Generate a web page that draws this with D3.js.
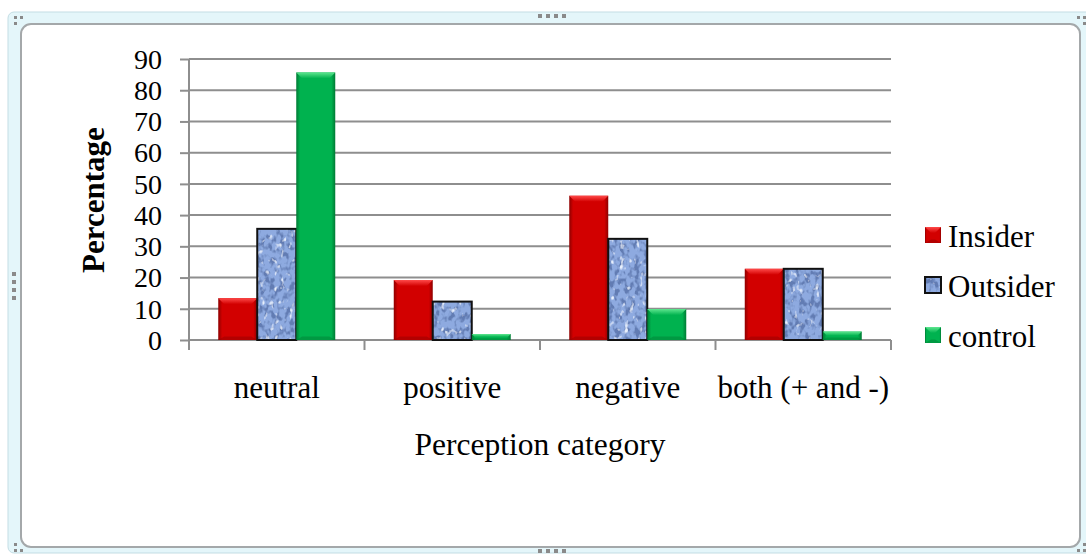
<!DOCTYPE html>
<html>
<head>
<meta charset="utf-8">
<script src="https://cdn.jsdelivr.net/npm/d3@7"></script>
<style>
  html, body { margin: 0; padding: 0; background: #ffffff; }
  svg { display: block; }
</style>
</head>
<body>
<div id="chart"></div>
<script>
// Perception categories and percentages per group
const categories = ["neutral", "positive", "negative", "both (+ and -)"];
const seriesNames = ["Insider", "Outsider", "control"];
const insider  = [13.4, 19.2, 46.2, 22.8];
const outsider = [35.6, 12.3, 32.4, 22.8];
const control  = [85.7, 1.9, 9.9, 2.7];
const yTicks = [0, 10, 20, 30, 40, 50, 60, 70, 80, 90];

const SERIF = "'Liberation Serif', 'Times New Roman', serif";
const W = 1086, H = 555;
const svg = d3.select("#chart").append("svg").attr("width", W).attr("height", H)
  .style("font-family", SERIF);
const defs = svg.append("defs");

// ---- window frame ----
svg.append("rect").attr("x", 8).attr("y", 12).attr("width", W).attr("height", 541)
  .attr("rx", 6).attr("fill", "#e4f6fa").attr("stroke", "#c3dde4").attr("stroke-width", 1);
svg.append("rect").attr("x", 21).attr("y", 24).attr("width", 1059).attr("height", 523)
  .attr("rx", 10).attr("fill", "#ffffff").attr("stroke", "#a4a8aa").attr("stroke-width", 2);

// sizing handles
const handleColor = "#8a8a8a";
[0, 1, 2, 3].forEach(i => {
  svg.append("rect").attr("x", 538 + i * 8).attr("y", 14).attr("width", 4).attr("height", 4).attr("fill", handleColor);
  svg.append("rect").attr("x", 538 + i * 8).attr("y", 549).attr("width", 4).attr("height", 4).attr("fill", handleColor);
  svg.append("rect").attr("x", 12).attr("y", 272 + i * 8).attr("width", 4).attr("height", 4).attr("fill", handleColor);
});
[[14, 16], [20, 16], [14, 22]].forEach(p =>
  svg.append("rect").attr("x", p[0]).attr("y", p[1]).attr("width", 3).attr("height", 3).attr("fill", handleColor));
[[14, 543], [14, 549], [20, 549]].forEach(p =>
  svg.append("rect").attr("x", p[0]).attr("y", p[1]).attr("width", 3).attr("height", 3).attr("fill", handleColor));
[[1077, 16], [1083, 16], [1083, 22]].forEach(p =>
  svg.append("rect").attr("x", p[0]).attr("y", p[1]).attr("width", 3).attr("height", 3).attr("fill", handleColor));
[[1077, 549], [1083, 549], [1083, 543]].forEach(p =>
  svg.append("rect").attr("x", p[0]).attr("y", p[1]).attr("width", 3).attr("height", 3).attr("fill", handleColor));

// ---- scales ----
const plot = { left: 189, right: 891, top: 59, bottom: 340 };
const x0 = d3.scaleBand().domain(categories).range([plot.left, plot.right]).paddingInner(0).paddingOuter(0);
const groupPad = x0.bandwidth() * (1.5 / 4.5) / 2;
const x1 = d3.scaleBand().domain(seriesNames)
  .range([groupPad, x0.bandwidth() - groupPad]).padding(0);
const y = d3.scaleLinear().domain([0, 90]).range([plot.bottom, plot.top]);

// ---- gradients / textures ----
const palette = {
  Insider: { base: "#d20000", light: "#ff4a4a", dark: "#8e0000" },
  control: { base: "#00b24f", light: "#5ee68f", dark: "#007a34" }
};
Object.entries(palette).forEach(([k, c]) => {
  const g = defs.append("linearGradient").attr("id", "side-" + k).attr("x1", 0).attr("x2", 1).attr("y1", 0).attr("y2", 0);
  g.append("stop").attr("offset", "0%").attr("stop-color", c.dark);
  g.append("stop").attr("offset", "10%").attr("stop-color", c.base);
  g.append("stop").attr("offset", "90%").attr("stop-color", c.base);
  g.append("stop").attr("offset", "100%").attr("stop-color", c.dark);
  const t = defs.append("linearGradient").attr("id", "cap-" + k).attr("x1", 0).attr("x2", 0).attr("y1", 0).attr("y2", 1);
  t.append("stop").attr("offset", "0%").attr("stop-color", c.light);
  t.append("stop").attr("offset", "100%").attr("stop-color", c.base);
});

// mottled blue texture for the Outsider series: dark and pale blotches over light blue
const tex = defs.append("filter").attr("id", "mottle").attr("x", 0).attr("y", 0).attr("width", 1).attr("height", 1);
tex.append("feTurbulence").attr("type", "fractalNoise").attr("baseFrequency", "0.2 0.14")
  .attr("numOctaves", 2).attr("seed", 7).attr("result", "noise");
tex.append("feColorMatrix").attr("in", "noise").attr("type", "matrix")
  .attr("values", "0 0 0 0 0.12  0 0 0 0 0.20  0 0 0 0 0.45  5 0 0 0 -2.3")
  .attr("result", "darkSpots");
tex.append("feColorMatrix").attr("in", "noise").attr("type", "matrix")
  .attr("values", "0 0 0 0 0.80  0 0 0 0 0.87  0 0 0 0 0.98  0 -5 0 0 1.9")
  .attr("result", "paleSpots");
tex.append("feMerge").attr("result", "spots").call(m => {
  m.append("feMergeNode").attr("in", "SourceGraphic");
  m.append("feMergeNode").attr("in", "darkSpots");
  m.append("feMergeNode").attr("in", "paleSpots");
});
tex.append("feComposite").attr("in", "spots").attr("in2", "SourceGraphic").attr("operator", "in");

// ---- gridlines & axes ----
const grid = svg.append("g");
grid.selectAll("line").data(yTicks.filter(d => d > 0)).join("line")
  .attr("x1", plot.left).attr("x2", plot.right)
  .attr("y1", d => y(d)).attr("y2", d => y(d))
  .attr("stroke", "#8e8e8e").attr("stroke-width", 2);

const yAxis = svg.append("g").attr("transform", `translate(${plot.left},0)`)
  .call(d3.axisLeft(y).tickValues(yTicks).tickSize(9).tickPadding(18).tickFormat(d3.format("d")));
yAxis.attr("font-family", SERIF);
yAxis.select(".domain").attr("stroke", "#8e8e8e").attr("stroke-width", 2)
  .attr("d", `M0,${plot.top}V${plot.bottom + 10}`);
yAxis.selectAll(".tick line").attr("stroke", "#8e8e8e").attr("stroke-width", 2);
yAxis.selectAll(".tick text").attr("font-size", 28).attr("fill", "#000").attr("dy", "0.33em");

const xAxis = svg.append("g").attr("transform", `translate(0,${plot.bottom})`);
xAxis.append("line").attr("x1", plot.left).attr("x2", plot.right).attr("y1", 0).attr("y2", 0)
  .attr("stroke", "#8e8e8e").attr("stroke-width", 2);
const bounds = categories.map(c => x0(c)).concat([plot.right]);
xAxis.selectAll("line.sep").data(bounds).join("line").attr("class", "sep")
  .attr("x1", d => d).attr("x2", d => d).attr("y1", 0).attr("y2", 10)
  .attr("stroke", "#8e8e8e").attr("stroke-width", 2);
xAxis.selectAll("text").data(categories).join("text")
  .attr("x", d => x0(d) + x0.bandwidth() / 2).attr("y", 58)
  .attr("text-anchor", "middle").attr("font-size", 31).attr("font-family", SERIF)
  .attr("fill", "#000").text(d => d);

// axis titles
svg.append("text").attr("x", (plot.left + plot.right) / 2).attr("y", 455)
  .attr("text-anchor", "middle").attr("font-size", 31.5).attr("font-family", SERIF)
  .attr("fill", "#000").text("Perception category");
svg.append("text").attr("transform", "translate(104,200) rotate(-90)")
  .attr("text-anchor", "middle").attr("font-size", 31).attr("font-weight", "bold")
  .attr("font-family", SERIF).attr("fill", "#000").text("Percentage");

// ---- bars ----
const seriesValues = { Insider: insider, Outsider: outsider, control: control };

function bevelBar(g, name, bx, by, bw, bh) {
  if (name === "Outsider") {
    g.append("rect").attr("x", bx).attr("y", by).attr("width", bw).attr("height", bh)
      .attr("fill", "#8eaae0").attr("filter", "url(#mottle)");
    g.append("rect").attr("x", bx).attr("y", by).attr("width", bw).attr("height", bh)
      .attr("fill", "none").attr("stroke", "#111").attr("stroke-width", 2);
    return;
  }
  const c = palette[name];
  const b = Math.min(6, bh / 2, bw / 2);
  g.append("rect").attr("x", bx).attr("y", by).attr("width", bw).attr("height", bh)
    .attr("fill", `url(#side-${name})`);
  g.append("polygon")
    .attr("points", [[bx, by], [bx + bw, by], [bx + bw - b, by + b], [bx + b, by + b]].map(p => p.join(",")).join(" "))
    .attr("fill", `url(#cap-${name})`);
  g.append("polygon")
    .attr("points", [[bx, by + bh], [bx + bw, by + bh], [bx + bw - b, by + bh - b * 0.6], [bx + b, by + bh - b * 0.6]].map(p => p.join(",")).join(" "))
    .attr("fill", c.dark).attr("opacity", 0.45);
}

const barsG = svg.append("g");
categories.forEach((cat, i) => {
  seriesNames.forEach(name => {
    const v = seriesValues[name][i];
    const bx = x0(cat) + x1(name);
    const by = y(v);
    bevelBar(barsG, name, bx, by, x1.bandwidth(), y(0) - by);
  });
});

// ---- legend ----
const legendRows = [247, 297, 347];
const legend = svg.append("g");
seriesNames.forEach((name, i) => {
  const base = legendRows[i];
  bevelBar(legend, name, 925, base - 20, 16, 16);
  legend.append("text").attr("x", 948).attr("y", base).attr("font-size", 31)
    .attr("font-family", SERIF).attr("fill", "#000").text(name);
});
</script>
</body>
</html>
